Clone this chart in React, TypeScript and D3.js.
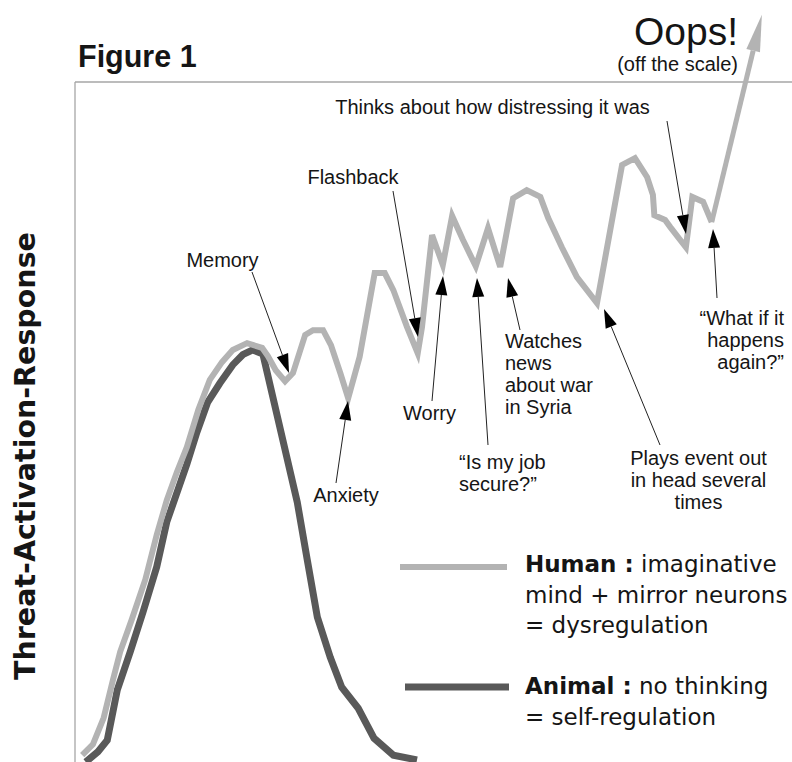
import React from "react";
import * as d3 from "d3";

// ---- Data (time units 0..100, activation units 0..100) ----
const humanTime = [1.0, 2.5, 4.0, 5.3, 6.3, 7.9, 9.8, 11.4, 12.8, 14.2, 15.6, 17.2, 18.8, 20.5, 22.0, 24.0, 26.1, 26.9, 28.0, 29.3, 30.4, 32.1, 33.2, 34.6, 35.7, 37.0, 38.1, 39.7, 41.8, 43.2, 44.4, 46.3, 47.8, 48.4, 49.8, 51.3, 52.6, 54.1, 55.9, 57.6, 59.3, 61.1, 63.0, 64.9, 66.0, 67.9, 70.0, 72.8, 76.3, 78.1, 79.8, 80.6, 80.8, 82.3, 83.0, 85.2, 86.1, 87.6, 88.8];
const humanLevel = [1.0, 2.6, 6.5, 12.1, 16.2, 20.9, 26.8, 33.4, 38.5, 42.6, 46.3, 51.8, 56.2, 58.8, 60.6, 61.6, 60.9, 59.7, 57.6, 56.0, 57.2, 62.8, 63.5, 63.5, 61.3, 57.2, 53.5, 59.6, 71.9, 71.9, 69.4, 64.0, 60.1, 64.0, 77.5, 73.1, 80.3, 76.8, 72.9, 78.5, 72.8, 82.9, 84.1, 83.1, 80.0, 75.7, 71.3, 67.5, 87.8, 88.8, 86.0, 83.4, 80.4, 79.7, 78.7, 75.7, 83.1, 82.4, 79.4];
const humanOffScale = [95.8, 109.9]; // arrow tip "off the scale"

const animalTime = [1.5, 3.2, 4.5, 5.9, 7.7, 9.5, 11.4, 12.8, 15.6, 17.0, 18.5, 20.2, 22.0, 23.4, 24.8, 26.2, 31.0, 32.4, 33.8, 35.6, 37.2, 39.5, 41.7, 44.4, 47.7];
const animalLevel = [0.0, 1.5, 3.2, 10.6, 16.2, 22.1, 28.7, 35.3, 43.8, 48.5, 52.9, 55.7, 58.4, 59.9, 60.6, 60.0, 38.2, 29.7, 21.3, 15.4, 11.0, 7.9, 3.5, 1.0, 0.3];

const seriesNames = ["Human", "Animal"];
const legendDescriptions = [
  [" imaginative", "mind + mirror neurons", "= dysregulation"],
  [" no thinking", "= self-regulation"],
];

// ---- Layout ----
const W = 792;
const H = 762;
const LEFT = 75;
const TOP = 82;
const HUMAN_COLOR = "#b3b3b3";
const ANIMAL_COLOR = "#595959";
const TEXT_COLOR = "#151515";
const SANS = "'Liberation Sans', Arial, sans-serif";
const DEJAVU = "'DejaVu Sans', sans-serif";

const annotations = [
  { lines: ["Memory"], x: 222.5, y: 267, anchor: "middle", from: [252, 272], to: [289, 373] },
  { lines: ["Flashback"], x: 353, y: 184, anchor: "middle", from: [393, 191], to: [418, 337] },
  { lines: ["Anxiety"], x: 346, y: 502, anchor: "middle", from: [336, 483], to: [348, 401] },
  { lines: ["Worry"], x: 429.5, y: 420, anchor: "middle", from: [432, 401], to: [443, 276] },
  { lines: ["\u201CIs my job", "secure?\u201D"], x: 459, y: 469, anchor: "start", from: [488, 445], to: [477, 278] },
  { lines: ["Watches", "news", "about war", "in Syria"], x: 505, y: 348, anchor: "start", from: [520, 330], to: [508, 278] },
  { lines: ["Plays event out", "in head several", "times"], x: 698.5, y: 465, anchor: "middle", from: [660, 445], to: [604, 309] },
  { lines: ["Thinks about how distressing it was"], x: 492.5, y: 114, anchor: "middle", from: [667, 121], to: [686, 234] },
  { lines: ["\u201CWhat if it", "happens", "again?\u201D"], x: 784, y: 325, anchor: "end", from: [717, 298], to: [713, 229] },
];

function arrowHead(x1: number, y1: number, x2: number, y2: number, len: number, half: number) {
  const dx = x2 - x1;
  const dy = y2 - y1;
  const L = Math.hypot(dx, dy);
  const ux = dx / L;
  const uy = dy / L;
  const bx = x2 - ux * len;
  const by = y2 - uy * len;
  const px = -uy;
  const py = ux;
  return {
    base: [bx, by],
    points: `${x2},${y2} ${bx + px * half},${by + py * half} ${bx - px * half},${by - py * half}`,
  };
}

export default function App() {
  const x = d3.scaleLinear().domain([0, 100]).range([LEFT, W]);
  const y = d3.scaleLinear().domain([0, 100]).range([H, TOP]);

  const human = humanTime.map((t, i) => [t, humanLevel[i]] as [number, number]);
  const animal = animalTime.map((t, i) => [t, animalLevel[i]] as [number, number]);

  const line = d3
    .line<[number, number]>()
    .x((d) => x(d[0]))
    .y((d) => y(d[1]));

  const last = human[human.length - 1];
  const lx = x(last[0]);
  const ly = y(last[1]);
  const tx = x(humanOffScale[0]);
  const ty = y(humanOffScale[1]);
  const bigHead = arrowHead(lx, ly, tx, ty, 37, 7);

  return (
    <svg
      width={W}
      height={H}
      viewBox={`0 0 ${W} ${H}`}
      style={{ position: "absolute", left: 0, top: 0, display: "block", background: "#fff" }}
    >
      <rect x={0} y={0} width={W} height={H} fill="#fff" />
      {/* frame */}
      <line x1={LEFT} y1={TOP} x2={W} y2={TOP} stroke="#a6a6a6" strokeWidth={1.3} />
      <line x1={LEFT} y1={TOP} x2={LEFT} y2={H} stroke="#a6a6a6" strokeWidth={1.3} />

      {/* title */}
      <text x={78} y={67} fontFamily={SANS} fontWeight="bold" fontSize={30.5} fill={TEXT_COLOR}>
        Figure 1
      </text>

      {/* y axis label */}
      <text
        transform={`translate(35,456) rotate(-90)`}
        textAnchor="middle"
        fontFamily={DEJAVU}
        fontWeight="bold"
        fontSize={28.5}
        fill={TEXT_COLOR}
      >
        Threat-Activation-Response
      </text>

      {/* Oops */}
      <text x={738} y={45} textAnchor="end" fontFamily={SANS} fontSize={39} fill={TEXT_COLOR}>
        Oops!
      </text>
      <text x={738} y={71} textAnchor="end" fontFamily={SANS} fontSize={20} fill={TEXT_COLOR}>
        (off the scale)
      </text>

      {/* series */}
      <path d={line(animal) || ""} fill="none" stroke={ANIMAL_COLOR} strokeWidth={7} strokeLinejoin="miter" strokeMiterlimit={4} />
      <path d={line(human) || ""} fill="none" stroke={HUMAN_COLOR} strokeWidth={6} strokeLinejoin="miter" strokeMiterlimit={4} />
      <line x1={lx} y1={ly} x2={bigHead.base[0]} y2={bigHead.base[1]} stroke={HUMAN_COLOR} strokeWidth={5} />
      <polygon points={bigHead.points} fill={HUMAN_COLOR} />

      {/* annotations */}
      {annotations.map((a, i) => {
        const head = arrowHead(a.from[0], a.from[1], a.to[0], a.to[1], 19, 6);
        return (
          <g key={i}>
            <line x1={a.from[0]} y1={a.from[1]} x2={head.base[0]} y2={head.base[1]} stroke="#222" strokeWidth={1} />
            <polygon points={head.points} fill="#000" />
            <text textAnchor={a.anchor as any} fontFamily={SANS} fontSize={20} fill={TEXT_COLOR}>
              {a.lines.map((l, j) => (
                <tspan key={j} x={a.x} y={a.y + j * 22}>
                  {l}
                </tspan>
              ))}
            </text>
          </g>
        );
      })}

      {/* legend */}
      <line x1={400} y1={567} x2={507} y2={567} stroke={HUMAN_COLOR} strokeWidth={6} />
      <text fontFamily={DEJAVU} fontSize={23} fill={TEXT_COLOR}>
        <tspan x={525} y={572}>
          <tspan fontWeight="bold">{seriesNames[0]} :</tspan>
          {legendDescriptions[0][0]}
        </tspan>
        <tspan x={525} y={602.5}>{legendDescriptions[0][1]}</tspan>
        <tspan x={525} y={633}>{legendDescriptions[0][2]}</tspan>
      </text>
      <line x1={405} y1={687} x2={509} y2={687} stroke={ANIMAL_COLOR} strokeWidth={7} />
      <text fontFamily={DEJAVU} fontSize={23} fill={TEXT_COLOR}>
        <tspan x={525} y={694}>
          <tspan fontWeight="bold">{seriesNames[1]} :</tspan>
          {legendDescriptions[1][0]}
        </tspan>
        <tspan x={525} y={724.5}>{legendDescriptions[1][1]}</tspan>
      </text>
    </svg>
  );
}
